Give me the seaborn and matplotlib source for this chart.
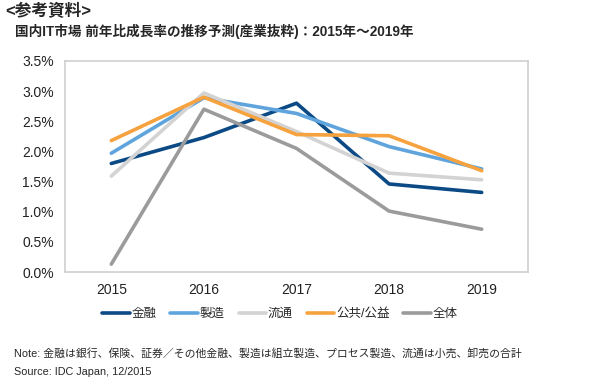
import matplotlib
matplotlib.use("Agg")
import matplotlib.pyplot as plt
import seaborn as sns
import pandas as pd
from matplotlib.ticker import FuncFormatter, MultipleLocator
from matplotlib.lines import Line2D

years = ["2015", "2016", "2017", "2018", "2019"]
finance = [1.80, 2.23, 2.80, 1.46, 1.32]
manufacturing = [1.97, 2.89, 2.63, 2.08, 1.71]
distribution = [1.59, 2.97, 2.33, 1.64, 1.53]
public = [2.18, 2.90, 2.28, 2.26, 1.68]
total = [0.13, 2.70, 2.05, 1.01, 0.71]
series_names = ["金融", "製造", "流通", "公共/公益", "全体"]
colors = ["#0b4a85", "#5fa4dc", "#d3d3d3", "#f6a23e", "#9b9b9b"]

rows = []
for name, vals in zip(series_names, [finance, manufacturing, distribution, public, total]):
    for y, v in zip(years, vals):
        rows.append({"year": y, "value": v, "series": name})
df = pd.DataFrame(rows)

sns.set_theme(style="white")
plt.rcParams["font.family"] = ["Liberation Sans", "Noto Sans CJK JP", "DejaVu Sans"]

fig = plt.figure(figsize=(6.0, 3.89), dpi=100)
ax = fig.add_axes([65/600, 1-272/389, (528-65)/600, (272-61)/389])

sns.lineplot(data=df, x="year", y="value", hue="series", hue_order=series_names,
             palette=colors, linewidth=2.6, sort=False, ax=ax, legend=False)

ax.set_xlim(-0.5, 4.5)
ax.set_ylim(0, 3.5)
ax.yaxis.set_major_locator(MultipleLocator(0.5))
ax.yaxis.set_major_formatter(FuncFormatter(lambda v, p: f"{v:.1f}%"))
ax.set_xlabel("")
ax.set_ylabel("")
ax.tick_params(axis="both", labelsize=10, colors="#222222", length=0, pad=8)
for s in ax.spines.values():
    s.set_color("#cfcfcf")
    s.set_linewidth(1.2)

handles = [Line2D([0], [0], color=c, lw=2.6) for c in colors]
fig.legend(handles, series_names, loc="center", bbox_to_anchor=(280/600, 1-314/389),
           ncol=5, frameon=False, fontsize=9, handlelength=2.2, handletextpad=0.15,
           columnspacing=1.1)

fig.text(5/600, 1-11/389, "<参考資料>", fontsize=12, fontweight="bold", va="center", ha="left")
fig.text(15/600, 1-31/389, "国内IT市場 前年比成長率の推移予測(産業抜粋)：2015年～2019年",
         fontsize=9.8, fontweight="bold", va="center", ha="left")
fig.text(14/600, 1-353/389,
         "Note: 金融は銀行、保険、証券／その他金融、製造は組立製造、プロセス製造、流通は小売、卸売の合計",
         fontsize=7.8, va="center", ha="left")
fig.text(14/600, 1-372/389, "Source: IDC Japan, 12/2015", fontsize=7.8, va="center", ha="left")

fig.savefig("out.png", dpi=100)
